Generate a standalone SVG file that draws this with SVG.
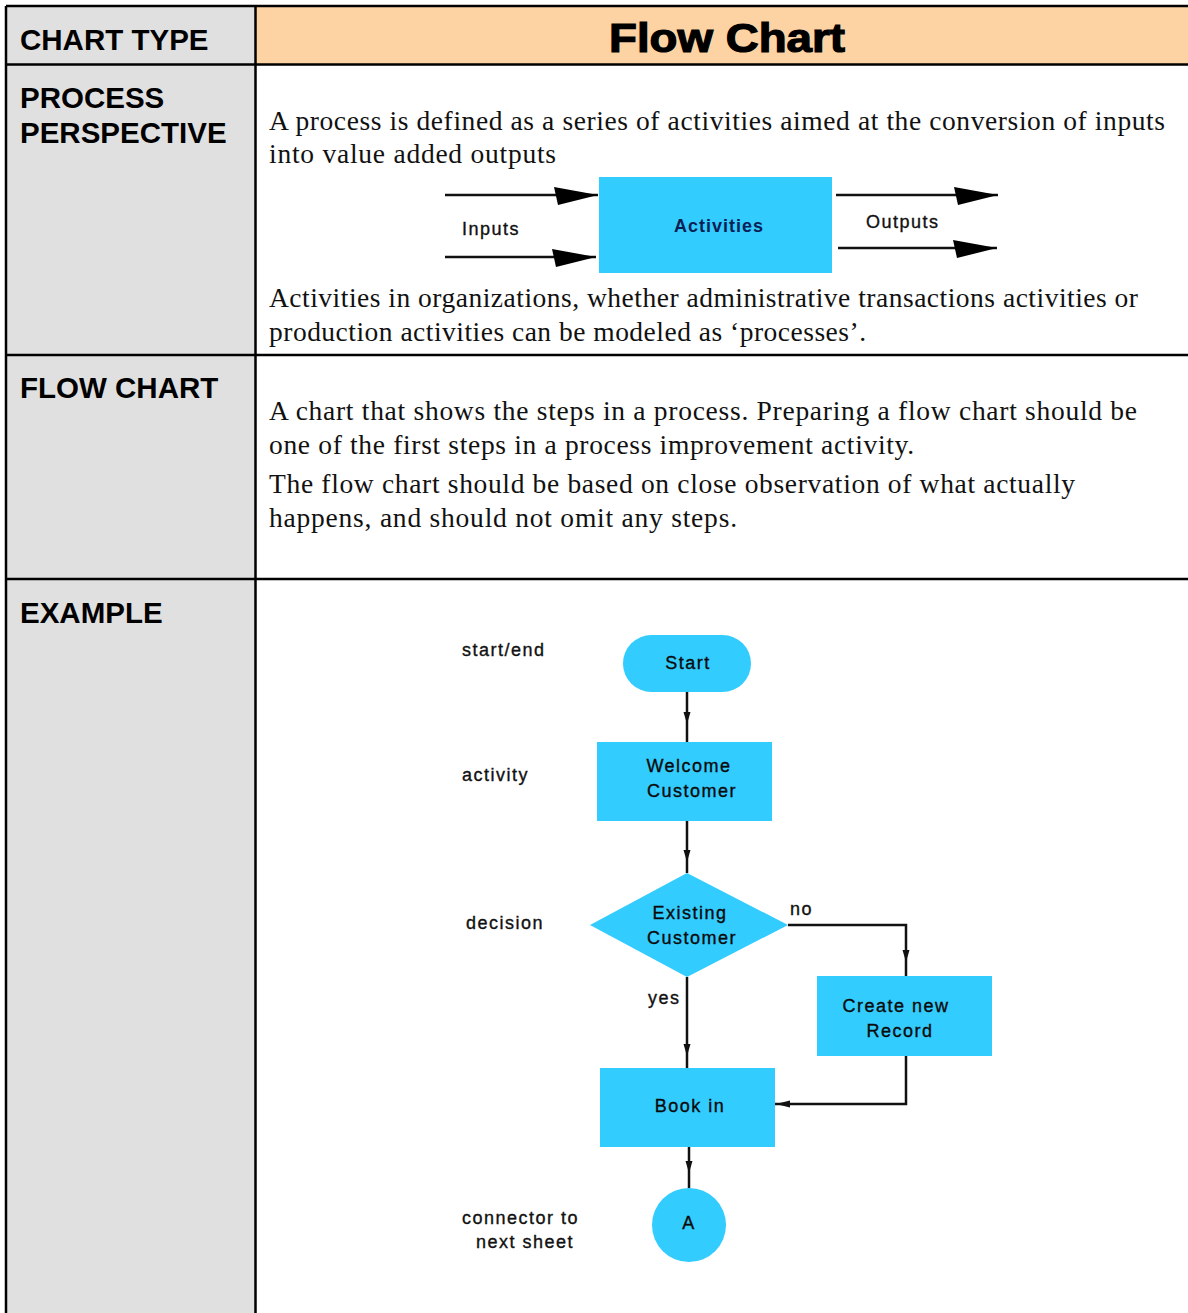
<svg xmlns="http://www.w3.org/2000/svg" width="1188" height="1313" viewBox="0 0 1188 1313">
<defs>
<style>
.hdr{font-family:"Liberation Sans",Arial,sans-serif;font-weight:bold;font-size:29.5px;fill:#000}
.body{font-family:"Liberation Serif","Times New Roman",serif;font-size:27.5px;fill:#111}
.lbl{font-family:"Liberation Sans",Arial,sans-serif;font-size:18px;letter-spacing:1.5px;fill:#111;stroke:#111;stroke-width:0.35}
.ntx{font-family:"Liberation Sans",Arial,sans-serif;font-size:18px;letter-spacing:1.5px;fill:#0a0a0a;stroke:#0a0a0a;stroke-width:0.35;text-anchor:middle}
.shape{fill:#33ccff}
.edge{fill:none;stroke:#111;stroke-width:2.5}
.tip{fill:#111}
.grid{stroke:#000;stroke-width:2.5;fill:none}
</style>
<marker id="big" markerWidth="44" markerHeight="20" refX="44" refY="10" orient="auto" markerUnits="userSpaceOnUse">
<path d="M0,2 L44,10 L4,20 Z" fill="#000"/>
</marker>
</defs>

<!-- table cells -->
<g id="table">
<rect x="7" y="7" width="248" height="1306" fill="#e0e0e0"/>
<rect x="256" y="7" width="932" height="57" fill="#fed3a3"/>
<rect x="256" y="65" width="932" height="1248" fill="#ffffff"/>
<path class="grid" d="M6,6 H1188 M6,6 V1313 M255.5,6 V1313 M6,64.5 H1188 M6,355 H1188 M6,579 H1188"/>
</g>

<g id="headers">
<text class="hdr" x="20" y="50">CHART TYPE</text>
<text class="hdr" x="20" y="108">PROCESS</text>
<text class="hdr" x="20" y="143">PERSPECTIVE</text>
<text class="hdr" x="20" y="398">FLOW CHART</text>
<text class="hdr" x="20" y="623">EXAMPLE</text>
<text x="727" y="52" text-anchor="middle" font-family="Liberation Sans,Arial,sans-serif" font-weight="bold" font-size="40" stroke="#000" stroke-width="1.2" textLength="236" lengthAdjust="spacingAndGlyphs">Flow Chart</text>
</g>

<g id="texts">
<text class="body" x="269" y="130" textLength="896" lengthAdjust="spacing">A process is defined as a series of activities aimed at the conversion of inputs</text>
<text class="body" x="269" y="163" textLength="287" lengthAdjust="spacing">into value added outputs</text>
<text class="body" x="269" y="307" textLength="869" lengthAdjust="spacing">Activities in organizations, whether administrative transactions activities or</text>
<text class="body" x="269" y="341" textLength="597" lengthAdjust="spacing">production activities can be modeled as ‘processes’.</text>
<text class="body" x="269" y="420" textLength="868" lengthAdjust="spacing">A chart that shows the steps in a process. Preparing a flow chart should be</text>
<text class="body" x="269" y="454" textLength="645" lengthAdjust="spacing">one of the first steps in a process improvement activity.</text>
<text class="body" x="269" y="493" textLength="806" lengthAdjust="spacing">The flow chart should be based on close observation of what actually</text>
<text class="body" x="269" y="527" textLength="468" lengthAdjust="spacing">happens, and should not omit any steps.</text>
</g>

<!-- process perspective mini diagram -->
<g id="activities">
<rect class="shape" x="599" y="177" width="233" height="96"/>
<text x="719" y="232" text-anchor="middle" font-family="Liberation Sans,Arial,sans-serif" font-weight="bold" font-size="18" letter-spacing="1" fill="#0a1f55">Activities</text>
</g>
<g id="io-labels">
<text class="lbl" x="462" y="235">Inputs</text>
<text class="lbl" x="866" y="228">Outputs</text>
</g>

<!-- flowchart nodes -->
<g id="start">
<rect class="shape" x="623" y="635" width="128" height="57" rx="28.5"/>
<text class="ntx" x="688" y="669">Start</text>
</g>
<g id="welcome">
<rect class="shape" x="597" y="742" width="175" height="79"/>
<text class="ntx" x="689" y="772">Welcome</text>
<text class="ntx" x="692" y="797">Customer</text>
</g>
<g id="existing">
<polygon class="shape" points="687,873 788,925 687,977 590,925"/>
<text class="ntx" x="690" y="919">Existing</text>
<text class="ntx" x="692" y="944">Customer</text>
</g>
<g id="create">
<rect class="shape" x="817" y="976" width="175" height="80"/>
<text class="ntx" x="896" y="1012">Create new</text>
<text class="ntx" x="900" y="1037">Record</text>
</g>
<g id="bookin">
<rect class="shape" x="600" y="1068" width="175" height="79"/>
<text class="ntx" x="690" y="1112">Book in</text>
</g>
<g id="connectorA">
<circle class="shape" cx="689" cy="1225" r="37"/>
<text class="ntx" x="689" y="1229">A</text>
</g>
<g id="legend">
<text class="lbl" x="462" y="656">start/end</text>
<text class="lbl" x="462" y="781">activity</text>
<text class="lbl" x="466" y="929">decision</text>
<text class="lbl" x="462" y="1224">connector to</text>
<text class="lbl" x="476" y="1248">next sheet</text>
<text class="lbl" x="790" y="915">no</text>
<text class="lbl" x="648" y="1004">yes</text>
</g>

<g id="connectors">
<path class="edge" d="M445,195 H598" marker-end="url(#big)"/>
<path class="edge" d="M445,257 H596" marker-end="url(#big)"/>
<path class="edge" d="M836,195 H998" marker-end="url(#big)"/>
<path class="edge" d="M838,248 H997" marker-end="url(#big)"/>
<path class="edge" d="M687,692 V742"/>
<path class="edge" d="M687,821 V873"/>
<path class="edge" d="M788,925 H906 V976"/>
<path class="edge" d="M687,977 V1068"/>
<path class="edge" d="M906,1056 V1104 H775"/>
<path class="edge" d="M689,1147 V1188"/>
<polygon class="tip" points="683.5,712 690.5,712 687,724"/>
<polygon class="tip" points="683.5,850 690.5,850 687,862"/>
<polygon class="tip" points="902.5,950 909.5,950 906,962"/>
<polygon class="tip" points="683.5,1044 690.5,1044 687,1056"/>
<polygon class="tip" points="790,1100.5 790,1107.5 776,1104"/>
<polygon class="tip" points="685.5,1161 692.5,1161 689,1173"/>
</g>
</svg>
